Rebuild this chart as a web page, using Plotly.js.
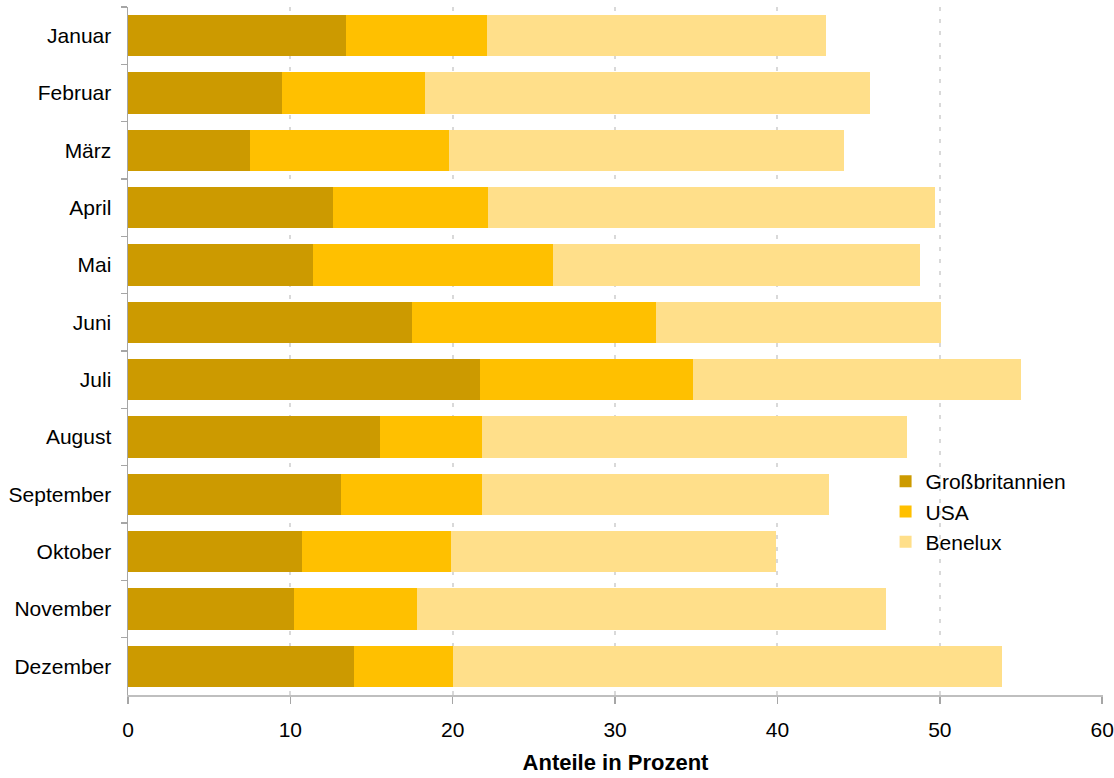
<!DOCTYPE html>
<html><head><meta charset="utf-8">
<script src="https://cdn.plot.ly/plotly-3.0.1.min.js"></script>
<style>html,body{margin:0;padding:0;background:#fff}</style>
</head><body>
<div id="chart" style="width:1114px;height:778px"></div>
<script>
const months = ["Januar","Februar","März","April","Mai","Juni","Juli","August","September","Oktober","November","Dezember"];
const grossbritannien = [13.4, 9.5, 7.5, 12.6, 11.4, 17.5, 21.7, 15.5, 13.1, 10.7, 10.2, 13.9];
const usa = [8.7, 8.8, 12.3, 9.6, 14.8, 15.0, 13.1, 6.3, 8.7, 9.2, 7.6, 6.1];
const benelux = [20.9, 27.4, 24.3, 27.5, 22.6, 17.6, 20.2, 26.2, 21.4, 20.0, 28.9, 33.8];
const xTicks = [0,10,20,30,40,50,60];

const font = "Liberation Sans, Arial, sans-serif";
function tr(name, vals, color){
  return {type:'bar', orientation:'h', name:name, x:vals, y:months,
    marker:{color:color, line:{width:0}}, hoverinfo:'x+y+name'};
}
const data = [
  tr("Großbritannien", grossbritannien, "#cc9a00"),
  tr("USA", usa, "#ffc000"),
  tr("Benelux", benelux, "#ffdf8a")
];
const layout = {
  width:1114, height:778,
  margin:{l:128, r:11, t:7, b:83},
  barmode:'stack', bargap:0.28,
  paper_bgcolor:'#fff', plot_bgcolor:'#fff',
  font:{family:font, size:21, color:'#000'},
  showlegend:true,
  legend:{x:0.777, y:0.34, xanchor:'left', yanchor:'top', traceorder:'normal',
    font:{family:font, size:21, color:'#000'}, bgcolor:'rgba(0,0,0,0)', itemwidth:30},
  xaxis:{range:[0,60.05], tickvals:xTicks, ticktext:xTicks.map(String),
    showgrid:true, gridcolor:'#d9d9d9', griddash:'4px,8px', gridwidth:2,
    showline:true, linecolor:'#bfbfbf', linewidth:2,
    ticks:'outside', ticklen:7, tickcolor:'#a6a6a6', tickwidth:1.5,
    ticklabelstandoff:8,
    zeroline:false, tickfont:{family:font, size:21, color:'#000'},
    title:{text:'<b>Anteile in Prozent</b>', font:{family:font, size:22, color:'#000'}, standoff:14}},
  yaxis:{autorange:'reversed', type:'category', tickson:'boundaries',
    showline:true, linecolor:'#a6a6a6', linewidth:1.5,
    ticks:'outside', ticklen:6, tickcolor:'#a6a6a6', tickwidth:1.5,
    showgrid:false, ticklabelstandoff:11,
    tickfont:{family:font, size:21, color:'#000'}}
};
Plotly.newPlot('chart', data, layout, {displayModeBar:false, staticPlot:true});
</script>
</body></html>
